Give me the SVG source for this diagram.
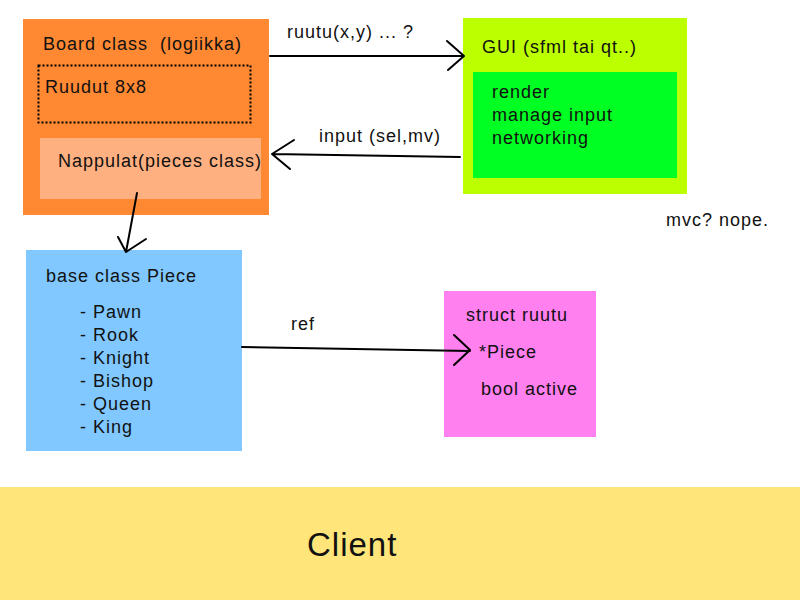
<svg xmlns="http://www.w3.org/2000/svg" width="800" height="600" viewBox="0 0 800 600">
<style>
text{font-family:"Liberation Sans","DejaVu Sans",sans-serif;font-size:18px;fill:#111;letter-spacing:1px;white-space:pre}
.c{fill:none;stroke:#000;stroke-width:2;stroke-linecap:round;stroke-linejoin:round}
</style>
<rect width="800" height="600" fill="#fff"/>
<g id="client">
<rect x="0" y="487" width="800" height="113" fill="#FFE57A"/>
<text x="307" y="556" style="font-size:33px;letter-spacing:1px">Client</text>
</g>
<g id="board">
<rect x="23" y="19" width="246" height="196" fill="#FF8833"/>
<text x="43" y="50" xml:space="preserve">Board class  (logiikka)</text>
<rect x="38.5" y="65.5" width="212" height="57" fill="none" stroke="#000" stroke-width="2" stroke-dasharray="2,2"/>
<text x="45" y="93">Ruudut 8x8</text>
<rect x="40" y="138" width="221" height="61" fill="#FFB080"/>
<text x="58" y="167">Nappulat(pieces class)</text>
</g>
<g id="gui">
<rect x="463" y="18" width="224" height="176" fill="#BBFF00"/>
<text x="482" y="53">GUI (sfml tai qt..)</text>
<rect x="473" y="72" width="204" height="106" fill="#00FF22"/>
<text x="492" y="98">render</text>
<text x="492" y="121">manage input</text>
<text x="492" y="144">networking</text>
</g>
<g id="piece">
<rect x="26" y="250" width="216" height="201" fill="#80C8FF"/>
<text x="46" y="282">base class Piece</text>
<text x="80" y="318">- Pawn</text>
<text x="80" y="341">- Rook</text>
<text x="80" y="364">- Knight</text>
<text x="80" y="387">- Bishop</text>
<text x="80" y="410">- Queen</text>
<text x="80" y="433">- King</text>
</g>
<g id="ruutu">
<rect x="444" y="291" width="152" height="146" fill="#FF80EE"/>
<text x="466" y="321">struct ruutu</text>
<text x="479" y="358">*Piece</text>
<text x="481" y="395">bool active</text>
</g>
<g id="note">
<text x="666" y="226">mvc? nope.</text>
</g>
<g id="connectors">
<path class="c" d="M270,56 L463,56 M447,41 L464,56 L448,70"/>
<text x="287" y="38">ruutu(x,y) ... ?</text>
<path class="c" d="M460,157 L272,154 M294,140 L272,154 L290,169"/>
<text x="319" y="142">input (sel,mv)</text>
<path class="c" d="M137,193 L126,252 M118,237 L126,252 L146,239"/>
<path class="c" d="M242,347 L470,351 M454,335 L470,350 L454,365"/>
<text x="291" y="330">ref</text>
</g>
</svg>
